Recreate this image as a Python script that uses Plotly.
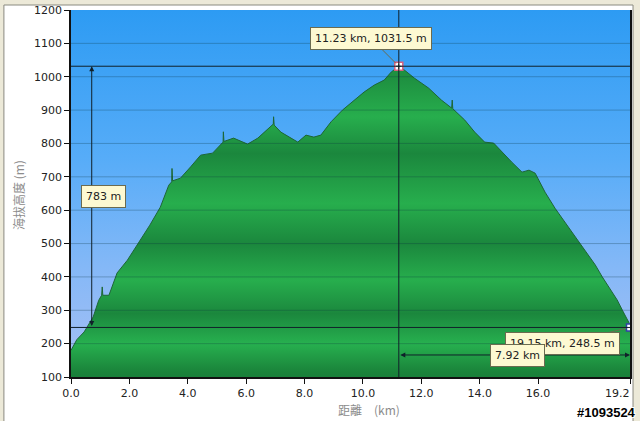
import plotly.graph_objects as go

# ---- data ----
dist_km = [0, 0.2, 0.45, 0.55, 0.76, 0.95, 1.05, 1.07, 1.09, 1.3, 1.58, 1.93, 2.37, 2.7,
           3.06, 3.35, 3.45, 3.46, 3.48, 3.75, 4.1, 4.44, 4.85, 5.21, 5.22, 5.24, 5.57,
           5.81, 6.05, 6.4, 6.78, 6.93, 6.94, 6.96, 7.19, 7.53, 7.77, 8.05, 8.32, 8.56,
           8.91, 9.3, 9.7, 10.04, 10.39, 10.73, 10.97, 11.23, 11.42, 11.76, 12.25, 12.69,
           13.04, 13.06, 13.08, 13.49, 13.83, 14.17, 14.48, 14.76, 15.1, 15.45, 15.69,
           15.9, 16.24, 16.58, 16.92, 17.27, 17.61, 17.96, 18.2, 18.45, 18.71, 18.89,
           19.12, 19.15]
elev_m = [180, 212, 235, 250, 280, 330, 345, 370, 345, 345, 412, 450, 510, 555,
          609, 675, 685, 725, 688, 696, 730, 765, 771, 804, 835, 806, 816,
          807, 798, 816, 846, 858, 880, 855, 834, 816, 804, 825, 819, 825,
          865, 900, 930, 954, 975, 990, 1014, 1031.5, 1020, 996, 966, 930,
          906, 930, 904, 870, 834, 804, 801, 774, 744, 714, 720,
          711, 654, 606, 565, 520, 480, 436, 400, 365, 331, 300,
          262, 248.5]

y_ticks = [100, 200, 300, 400, 500, 600, 700, 800, 900, 1000, 1100, 1200]
x_ticks = [0, 2, 4, 6, 8, 10, 12, 14, 16, 19.15]
x_tick_labels = ["0.0", "2.0", "4.0", "6.0", "8.0", "10.0", "12.0", "14.0", "16.0", "19.2"]

peak_km, peak_m = 11.23, 1031.5
end_km, end_m = 19.15, 248.5
rise_label = "783 m"
run_label = "7.92 km"
rise_arrow_km = 0.71
run_arrow_m = 166
rise_label_pos = (1.10, 642)
run_label_pos = (15.31, 163)

y_range = [100, 1200]
x_range = [0, 19.15]

# ---- figure ----
fig = go.Figure()

# blue gradient background
fig.add_trace(go.Scatter(
    x=[x_range[0] - 1, x_range[1] + 1, x_range[1] + 1, x_range[0] - 1, x_range[0] - 1],
    y=[y_range[0] - 50, y_range[0] - 50, y_range[1] + 50, y_range[1] + 50, y_range[0] - 50],
    fill="toself", mode="none", hoverinfo="skip", showlegend=False,
    fillgradient=dict(type="vertical", start=y_range[0], stop=y_range[1],
                      colorscale=[[0, "#a9c0f4"], [0.3, "#84b8f7"], [0.6, "#56acf8"],
                                  [1, "#2d9bf3"]]),
))

def n(v):
    return (v - y_range[0]) / (y_range[1] - y_range[0])

green_scale = [
    [n(100), "#19803a"], [n(115), "#1a833a"], [n(200), "#27b04f"], [n(290), "#1b873d"],
    [n(390), "#27ae4d"], [n(500), "#1b873d"], [n(620), "#27ae4d"], [n(770), "#1b873d"],
    [n(880), "#27ae4d"], [n(1000), "#1e8f40"], [n(1200), "#27ae4e"],
]

fig.add_trace(go.Scatter(
    x=dist_km, y=elev_m, mode="lines", fill="tozeroy",
    line=dict(color="#1d6636", width=1), hoverinfo="skip", showlegend=False,
    fillgradient=dict(type="vertical", start=y_range[0], stop=y_range[1],
                      colorscale=green_scale),
))

# markers
fig.add_trace(go.Scatter(x=[peak_km], y=[peak_m], mode="markers", showlegend=False,
                         hoverinfo="skip",
                         marker=dict(symbol="square", size=8, color="white",
                                     line=dict(color="#d9607c", width=1.5))))
fig.add_trace(go.Scatter(x=[peak_km], y=[peak_m], mode="markers", showlegend=False,
                         hoverinfo="skip",
                         marker=dict(symbol="cross-thin", size=4,
                                     line=dict(color="#222222", width=1))))
fig.add_trace(go.Scatter(x=[end_km], y=[end_m], mode="markers", showlegend=False,
                         hoverinfo="skip",
                         marker=dict(symbol="square", size=7, color="white",
                                     line=dict(color="#3340a8", width=1.5))))

shapes = []
# frame
shapes.append(dict(type="rect", xref="paper", yref="paper", x0=-0.12, x1=1.0054,
                   y0=-0.2, y1=1.0136, fillcolor="white",
                   line=dict(color="#8a8a80", width=1), layer="below"))
# gridlines on top of fills
for t in y_ticks[1:-1]:
    shapes.append(dict(type="line", xref="paper", yref="y", x0=0, x1=1, y0=t, y1=t,
                       line=dict(color="rgba(10,50,60,0.28)", width=1), layer="above"))
# guide lines
shapes.append(dict(type="line", xref="paper", yref="y", x0=0, x1=1, y0=peak_m, y1=peak_m,
                   line=dict(color="#10202a", width=1), layer="above"))
shapes.append(dict(type="line", xref="paper", yref="y", x0=0, x1=1, y0=end_m, y1=end_m,
                   line=dict(color="#10202a", width=1), layer="above"))
shapes.append(dict(type="line", xref="x", yref="paper", x0=peak_km, x1=peak_km, y0=0, y1=1,
                   line=dict(color="#10202a", width=1), layer="above"))

box = dict(bgcolor="#fdf9d2", bordercolor="#6b6b50", borderwidth=1, borderpad=4,
           font=dict(family="DejaVu Sans", size=11, color="#222222"))
tickfont = dict(family="DejaVu Sans", size=11, color="#222222")

annotations = [
    # double arrows
    dict(x=rise_arrow_km, y=peak_m, ax=rise_arrow_km, ay=end_m, axref="x", ayref="y",
         xref="x", yref="y", text="", showarrow=True, arrowhead=2, arrowside="end+start",
         arrowsize=1, arrowwidth=1, arrowcolor="#10202a"),
    dict(x=end_km, y=run_arrow_m, ax=peak_km, ay=run_arrow_m, axref="x", ayref="y",
         xref="x", yref="y", text="", showarrow=True, arrowhead=2, arrowside="end+start",
         arrowsize=1, arrowwidth=1, arrowcolor="#10202a"),
    dict(x=peak_km, y=peak_m, ax=-28, ay=-28, text=f"{peak_km} km, {peak_m} m",
         showarrow=True, arrowhead=0, arrowwidth=1, arrowcolor="#6b6b50", standoff=4, **box),
    dict(x=end_km, y=end_m, ax=-68, ay=16, text=f"{end_km} km, {end_m} m",
         showarrow=True, arrowhead=0, arrowwidth=1, arrowcolor="#6b6b50", standoff=4, **box),
    dict(x=rise_label_pos[0], y=rise_label_pos[1], text=rise_label, showarrow=False, **box),
    dict(x=run_label_pos[0], y=run_label_pos[1], text=run_label, showarrow=False, **box),
    # last x tick label, right-aligned to its tick as in the original
    dict(x=x_ticks[-1], xref="x", yref="paper", y=(377 - 393) / 367,
         xanchor="right", yanchor="middle", xshift=2, text=x_tick_labels[-1],
         showarrow=False, font=tickfont),
    # axis titles
    dict(xref="paper", yref="paper", x=(18 - 71) / 559, y=(377 - 195) / 367,
         xanchor="center", yanchor="middle",
         text="海拔高度 (m)", textangle=-90, showarrow=False,
         font=dict(family="Noto Sans CJK TC", size=12, color="#8c8c8c")),
    dict(xref="paper", yref="paper", x=(369 - 71) / 559, y=(377 - 409) / 367,
         xanchor="center", yanchor="middle",
         text="距離　(km)", showarrow=False,
         font=dict(family="Noto Sans CJK TC", size=12, color="#8c8c8c")),
    # watermark
    dict(xref="paper", yref="paper", x=(638 - 71) / 559, y=(377 - 412) / 367,
         xanchor="right", yanchor="middle", text="<b>#1093524</b>", showarrow=False,
         font=dict(family="Liberation Sans", size=13, color="black",
                   shadow="1px 1px 0 white, -1px -1px 0 white, 1px -1px 0 white, -1px 1px 0 white")),
]

fig.update_layout(
    width=640, height=421,
    margin=dict(l=71, r=10, t=10, b=44),
    paper_bgcolor="#ece9d8", plot_bgcolor="rgba(0,0,0,0)",
    shapes=shapes, annotations=annotations,
    showlegend=False,
)
fig.update_xaxes(range=x_range, tickvals=x_ticks,
                 ticktext=x_tick_labels[:-1] + [""],
                 showgrid=False, zeroline=False, showline=True, linecolor="#111111",
                 linewidth=1.5, ticks="outside", ticklen=5, tickcolor="#111111",
                 automargin=False, tickfont=tickfont)
fig.update_yaxes(range=y_range, tickvals=y_ticks, showgrid=False, zeroline=False,
                 showline=True, linecolor="#111111", linewidth=1.5, mirror=True,
                 ticks="outside", ticklen=5, tickcolor="#111111", automargin=False,
                 tickfont=tickfont)

fig.write_html("out.html", config={"displayModeBar": False},
               post_script="document.body.style.margin='0';document.body.style.padding='0';"
                           "document.body.style.overflow='hidden';")
